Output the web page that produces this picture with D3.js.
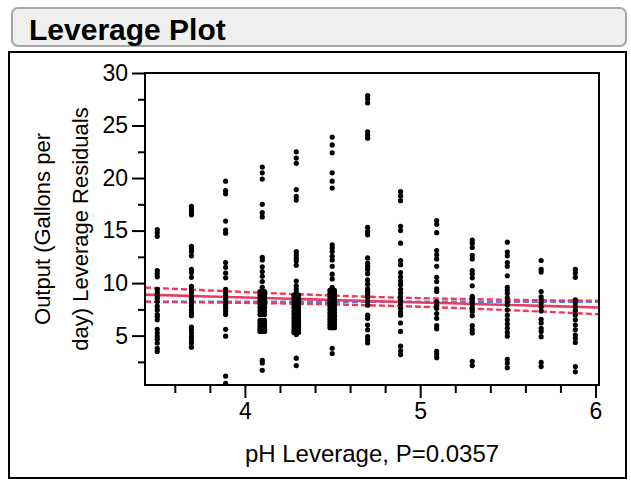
<!DOCTYPE html>
<html><head><meta charset="utf-8">
<script src="https://cdn.jsdelivr.net/npm/d3@7"></script>
<style>
html,body{margin:0;padding:0;background:#fff;}
text{font-family:"Liberation Sans",Arial,sans-serif;}
</style></head>
<body><svg id="c" width="631" height="487"></svg>
<script>
// ---- data ----
const title = "Leverage Plot";
const xTitle = "pH Leverage, P=0.0357";
const yTitle = ["Output (Gallons per", "day) Leverage Residuals"];
const xDomain = [3.43, 6.02];
const yDomain = [0.3, 30];
const xTicks = [4, 5, 6];
const xMinor = [3.6, 3.8, 4.2, 4.4, 4.6, 4.8, 5.2, 5.4, 5.6, 5.8];
const yTicks = [5, 10, 15, 20, 25, 30];
const yMinor = [2.5, 7.5, 12.5, 17.5, 22.5, 27.5];

// column x positions (pH leverage) and residual values of the single-lane columns
const colX = [3.50, 3.695, 3.89, 4.099, 4.293, 4.498, 4.70, 4.888, 5.094, 5.297, 5.497, 5.69, 5.885];
const colY = [
  [15.1, 14.8, 14.45, 11.2, 10.9, 10.6, 9.4, 9.1, 8.8, 8.55, 8.25, 7.8, 7.45, 7.0, 6.8, 6.5, 5.6, 5.25, 4.9, 4.65, 4.3, 3.8, 3.5],
  [17.3, 17.05, 16.8, 16.5, 13.5, 13.25, 13.0, 12.6, 11.3, 11.0, 10.55, 9.7, 9.35, 9.05, 8.7, 8.4, 8.1, 7.8, 7.45, 7.15, 6.9, 5.8, 5.55, 5.25, 4.9, 4.6, 4.3, 3.9],
  [19.7, 18.8, 18.5, 15.9, 15.05, 14.75, 11.95, 11.5, 10.95, 10.5, 9.4, 9.1, 8.8, 8.5, 8.2, 7.9, 7.6, 7.3, 7.0, 5.6, 4.95, 1.15, 0.45],
  [21.05, 20.5, 19.9, 17.5, 16.7, 16.3, 12.45, 12.2, 11.55, 11.1, 10.65, 10.15, 9.6, 2.65, 2.4, 1.7],
  [22.5, 21.9, 21.4, 18.9, 18.25, 17.9, 13.0, 12.7, 12.4, 12.1, 11.7, 10.2, 9.75, 9.4, 9.1, 5.1, 2.85, 2.15],
  [23.9, 23.15, 22.4, 20.5, 19.7, 19.05, 13.65, 13.35, 13.0, 12.55, 12.2, 11.6, 10.85, 10.4, 9.6, 3.8, 3.3],
  [27.85, 27.55, 27.15, 24.4, 24.1, 23.8, 15.3, 14.9, 14.6, 12.4, 11.9, 11.6, 11.3, 10.9, 10.3, 9.9, 9.45, 9.2, 8.9, 8.6, 8.25, 7.9, 6.95, 6.65, 6.0, 5.55, 4.9, 4.6, 4.3],
  [18.7, 18.3, 17.85, 15.4, 15.0, 13.8, 12.15, 11.75, 11.0, 10.6, 10.2, 9.85, 9.4, 9.05, 8.7, 8.35, 8.0, 7.6, 7.25, 6.95, 6.2, 5.4, 4.0, 3.55, 3.2],
  [15.95, 15.6, 14.8, 13.1, 12.7, 12.3, 11.6, 10.55, 10.15, 9.45, 9.2, 8.25, 7.9, 7.6, 7.1, 6.65, 5.95, 5.65, 3.5, 3.2, 2.9],
  [14.1, 13.8, 13.4, 12.65, 12.3, 11.2, 10.9, 10.5, 9.75, 8.75, 8.55, 8.25, 7.95, 7.6, 7.3, 6.9, 5.95, 5.55, 5.25, 2.55, 2.15],
  [13.9, 12.95, 12.6, 11.95, 11.6, 10.7, 9.6, 9.3, 9.0, 8.6, 8.25, 7.95, 7.45, 6.95, 6.5, 6.1, 5.7, 5.3, 4.95, 2.75, 2.4, 1.95],
  [12.15, 11.3, 11.05, 9.2, 8.7, 8.4, 8.1, 7.75, 7.35, 6.55, 6.2, 5.7, 5.4, 4.9, 2.45, 2.05],
  [11.3, 10.95, 10.55, 8.4, 8.1, 7.75, 7.4, 6.95, 6.5, 6.0, 5.55, 5.05, 4.75, 4.35, 2.05, 1.55]
];

// dense clusters (pH 4.1, 4.3, 4.5) as [x, residual]
const dense41 = [
  [4.086,9.2],[4.099,9.2],[4.112,9.2],[4.092,9.05],[4.106,9.05],
  [4.086,8.9],[4.099,8.9],[4.112,8.9],[4.092,8.75],[4.106,8.75],
  [4.086,8.6],[4.099,8.6],[4.112,8.6],[4.092,8.45],[4.106,8.45],
  [4.086,8.3],[4.099,8.3],[4.112,8.3],[4.092,8.15],[4.106,8.15],
  [4.086,8.0],[4.099,8.0],[4.112,8.0],[4.092,7.85],[4.106,7.85],
  [4.086,7.7],[4.099,7.7],[4.112,7.7],[4.092,7.52],[4.106,7.52],
  [4.086,7.35],[4.099,7.35],[4.112,7.35],[4.092,7.18],[4.106,7.18],
  [4.086,7.0],[4.099,7.0],[4.112,7.0],
  [4.086,6.45],[4.099,6.45],[4.112,6.45],[4.092,6.3],[4.106,6.3],
  [4.086,6.15],[4.099,6.15],[4.112,6.15],[4.092,6.0],[4.106,6.0],
  [4.086,5.85],[4.099,5.85],[4.112,5.85],[4.092,5.72],[4.106,5.72],
  [4.086,5.6],[4.099,5.6],[4.112,5.6],[4.092,5.5],[4.106,5.5],
  [4.086,5.4],[4.099,5.4],[4.112,5.4]
];
const dense43 = [
  [4.280,8.85],[4.293,8.85],[4.306,8.85],[4.286,8.7],[4.300,8.7],
  [4.280,8.55],[4.293,8.55],[4.306,8.55],[4.286,8.4],[4.300,8.4],
  [4.280,8.25],[4.293,8.25],[4.306,8.25],[4.286,8.1],[4.300,8.1],
  [4.280,7.95],[4.293,7.95],[4.306,7.95],[4.286,7.8],[4.300,7.8],
  [4.280,7.65],[4.293,7.65],[4.306,7.65],[4.286,7.5],[4.300,7.5],
  [4.280,7.35],[4.293,7.35],[4.306,7.35],[4.286,7.2],[4.300,7.2],
  [4.280,7.05],[4.293,7.05],[4.306,7.05],[4.286,6.9],[4.300,6.9],
  [4.280,6.75],[4.293,6.75],[4.306,6.75],[4.286,6.6],[4.300,6.6],
  [4.280,6.45],[4.293,6.45],[4.306,6.45],[4.286,6.3],[4.300,6.3],
  [4.280,6.15],[4.293,6.15],[4.306,6.15],[4.286,6.0],[4.300,6.0],
  [4.280,5.85],[4.293,5.85],[4.306,5.85],[4.286,5.7],[4.300,5.7],
  [4.280,5.55],[4.293,5.55],[4.306,5.55],[4.286,5.42],[4.300,5.42],
  [4.280,5.3],[4.293,5.3],[4.306,5.3]
];
const dense45 = [
  [4.485,9.3],[4.498,9.3],[4.511,9.3],[4.491,9.15],[4.505,9.15],
  [4.485,9.0],[4.498,9.0],[4.511,9.0],[4.491,8.85],[4.505,8.85],
  [4.485,8.7],[4.498,8.7],[4.511,8.7],[4.491,8.55],[4.505,8.55],
  [4.485,8.4],[4.498,8.4],[4.511,8.4],[4.491,8.25],[4.505,8.25],
  [4.485,8.1],[4.498,8.1],[4.511,8.1],[4.491,7.95],[4.505,7.95],
  [4.485,7.8],[4.498,7.8],[4.511,7.8],[4.491,7.65],[4.505,7.65],
  [4.485,7.5],[4.498,7.5],[4.511,7.5],[4.491,7.35],[4.505,7.35],
  [4.485,7.2],[4.498,7.2],[4.511,7.2],[4.491,7.05],[4.505,7.05],
  [4.485,6.9],[4.498,6.9],[4.511,6.9],[4.491,6.75],[4.505,6.75],
  [4.485,6.6],[4.498,6.6],[4.511,6.6],[4.491,6.45],[4.505,6.45],
  [4.485,6.3],[4.498,6.3],[4.511,6.3],[4.491,6.15],[4.505,6.15],
  [4.485,6.0],[4.498,6.0],[4.511,6.0],[4.491,5.88],[4.505,5.88],
  [4.485,5.75],[4.498,5.75],[4.511,5.75]
];

// fit line, confidence curves and mean line
const bandX = [3.43, 3.8, 4.2, 4.6, 4.8, 5.0, 5.4, 5.8, 6.02];
const fitY  = [8.90, 8.73, 8.54, 8.35, 8.25, 8.16, 7.97, 7.78, 7.68];
const upperY = [9.58, 9.30, 9.01, 8.76, 8.65, 8.57, 8.44, 8.35, 8.33];
const lowerY = [8.22, 8.16, 8.07, 7.94, 7.85, 7.75, 7.50, 7.21, 7.03];
const meanY = 8.22;

// ---- drawing ----
const svg = d3.select("#c");
svg.append("rect").attr("width", 631).attr("height", 487).attr("fill", "#fff");

// title bar
svg.append("rect").attr("x", 12).attr("y", 8).attr("width", 614).attr("height", 38)
  .attr("rx", 6).attr("fill", "#efefef").attr("stroke", "#a6a6a6").attr("stroke-width", 2);
svg.append("text").attr("x", 29).attr("y", 40).attr("font-size", 30).attr("font-weight", "bold")
  .attr("fill", "#000").text(title);

// outer frame
svg.append("rect").attr("x", 9).attr("y", 52).attr("width", 617).attr("height", 426)
  .attr("fill", "none").attr("stroke", "#000").attr("stroke-width", 2);

const L = 145, R = 599, T = 73, B = 385;
const x = d3.scaleLinear().domain(xDomain).range([L, R]);
const y = d3.scaleLinear().domain(yDomain).range([B, T]);

// axes
svg.append("g").attr("transform", `translate(${L},0)`)
  .call(d3.axisLeft(y).tickValues(yTicks).tickSize(13).tickPadding(4).tickFormat(d3.format("d")));
svg.append("g").attr("transform", `translate(${L},0)`)
  .call(d3.axisLeft(y).tickValues(yMinor).tickSize(7).tickFormat(""));
svg.append("g").attr("transform", `translate(0,${B})`)
  .call(d3.axisBottom(x).tickValues(xTicks).tickSize(13).tickPadding(5).tickFormat(d3.format("d")));
svg.append("g").attr("transform", `translate(0,${B})`)
  .call(d3.axisBottom(x).tickValues(xMinor).tickSize(8).tickFormat(""));
svg.selectAll(".domain").remove();
svg.selectAll(".tick line").attr("stroke", "#000").attr("stroke-width", 2);
svg.selectAll(".tick text").attr("font-size", 23).attr("fill", "#000")
  .attr("font-family", '"Liberation Sans", Arial, sans-serif');

// reference lines
svg.append("clipPath").attr("id", "pc").append("rect")
  .attr("x", L).attr("y", T).attr("width", R - L).attr("height", B - T);
const g = svg.append("g").attr("clip-path", "url(#pc)");
const red = "#ee3a5e", blue = "#4a88ee";
const line = d3.line().x(d => x(d[0])).y(d => y(d[1])).curve(d3.curveMonotoneX);
g.append("path").attr("d", line(xDomain.map(v => [v, meanY])))
  .attr("fill", "none").attr("stroke", blue).attr("stroke-width", 2.4).attr("stroke-dasharray", "6,3");
g.append("path").attr("d", line(bandX.map((v, i) => [v, upperY[i]])))
  .attr("fill", "none").attr("stroke", red).attr("stroke-width", 2.4).attr("stroke-dasharray", "6,3");
g.append("path").attr("d", line(bandX.map((v, i) => [v, lowerY[i]])))
  .attr("fill", "none").attr("stroke", red).attr("stroke-width", 2.4).attr("stroke-dasharray", "6,3");
g.append("path").attr("d", line(bandX.map((v, i) => [v, fitY[i]])))
  .attr("fill", "none").attr("stroke", red).attr("stroke-width", 2.6);

// points
const pts = [];
colX.forEach((cx, i) => colY[i].forEach(v => pts.push([cx, v])));
dense41.concat(dense43, dense45).forEach(p => pts.push(p));
svg.append("g").selectAll("circle").data(pts).join("circle")
  .attr("cx", d => x(d[0])).attr("cy", d => y(d[1])).attr("r", 2.6).attr("fill", "#000");

// plot frame
svg.append("rect").attr("x", L).attr("y", T).attr("width", R - L).attr("height", B - T)
  .attr("fill", "none").attr("stroke", "#000").attr("stroke-width", 2);

// axis titles
svg.append("text").attr("x", (L + R) / 2).attr("y", 462).attr("text-anchor", "middle")
  .attr("font-size", 24).attr("fill", "#000").text(xTitle);
yTitle.forEach((t, i) => {
  svg.append("text").attr("transform", `translate(${50 + i * 38},${(T + B) / 2}) rotate(-90)`)
    .attr("text-anchor", "middle").attr("font-size", 22).attr("fill", "#000").text(t);
});
</script></body></html>
